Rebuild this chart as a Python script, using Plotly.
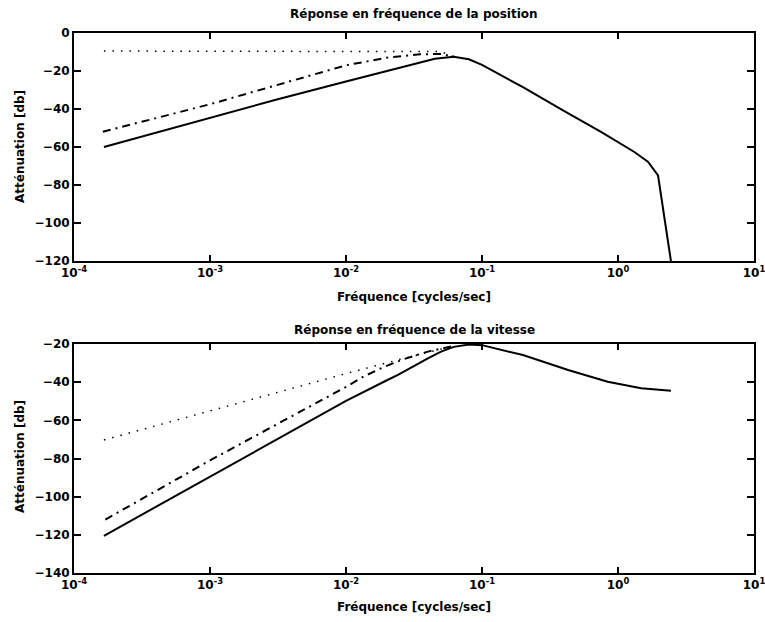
import plotly.graph_objects as go

# --- Réponse en fréquence de la position ---
pos_f_solid = [1.66e-4, 1e-3, 3e-3, 1e-2, 0.02, 0.03, 0.045, 0.062, 0.08, 0.1,
               0.2, 0.4, 0.75, 1.31, 1.66, 1.97, 2.45]
pos_db_solid = [-60, -44.6, -35.3, -25.5, -20, -16.8, -13.6, -12.5, -13.8, -16.8,
                -28.5, -41, -52, -62.5, -67.7, -75, -120]

pos_f_dashdot = [1.63e-4, 1e-3, 1e-2, 0.02, 0.035, 0.05, 0.062]
pos_db_dashdot = [-52, -37.5, -17, -13, -11.2, -11, -12.5]

pos_f_dot = [1.66e-4, 1e-3, 1e-2, 0.05, 0.062]
pos_db_dot = [-9.5, -9.5, -9.6, -9.8, -12.5]

# --- Réponse en fréquence de la vitesse ---
vit_f_solid = [1.66e-4, 1e-3, 1e-2, 0.02, 0.0241, 0.04, 0.05, 0.062, 0.08, 0.1,
               0.2, 0.43, 0.84, 1.48, 2.45]
vit_db_solid = [-120.5, -89.5, -49.8, -39, -36.2, -27.5, -24, -21.5, -20.3, -20.6,
                -25.8, -33.6, -39.8, -43.2, -44.5]

vit_f_dashdot = [1.7e-4, 1e-3, 1e-2, 0.0135, 0.019, 0.0267, 0.04, 0.0526, 0.062]
vit_db_dashdot = [-112, -81, -42.5, -37, -32, -27.9, -24, -22, -21]

vit_f_dot = [1.66e-4, 1e-3, 1e-2, 0.0245, 0.04, 0.062]
vit_db_dot = [-70.3, -55, -35.5, -28.2, -24.5, -21]

x_tickvals = [1e-4, 1e-3, 1e-2, 1e-1, 1e0, 1e1]
x_ticktext = ["10<sup>-4</sup>", "10<sup>-3</sup>", "10<sup>-2</sup>",
              "10<sup>-1</sup>", "10<sup>0</sup>", "10<sup>1</sup>"]
pos_yticks = [0, -20, -40, -60, -80, -100, -120]
vit_yticks = [-20, -40, -60, -80, -100, -120, -140]

titles = ["Réponse en fréquence de la position", "Réponse en fréquence de la vitesse"]
xlabel = "Fréquence [cycles/sec]"
ylabel = "Atténuation [db]"

FONT = "DejaVu Sans, Verdana, sans-serif"
W, H = 765, 622
# plot area in pixels: left, right, top, bottom
L, R, T, B = 74, 754, 33, 573
PW, PH = R - L, B - T


def px_x(px):
    return (px - L) / PW


def px_y(py):
    return (B - py) / PH


fig = go.Figure()

solid = dict(color="black", width=2)
dashdot = dict(color="black", width=2, dash="8px,5px,2px,5px")
dotted = dict(color="black", width=1.5, dash="1.5px,7px")

for f, db, ln, xa, ya in [
    (pos_f_solid, pos_db_solid, solid, "x", "y"),
    (pos_f_dashdot, pos_db_dashdot, dashdot, "x", "y"),
    (pos_f_dot, pos_db_dot, dotted, "x", "y"),
    (vit_f_solid, vit_db_solid, solid, "x2", "y2"),
    (vit_f_dashdot, vit_db_dashdot, dashdot, "x2", "y2"),
    (vit_f_dot, vit_db_dot, dotted, "x2", "y2"),
]:
    fig.add_trace(go.Scatter(x=f, y=db, mode="lines", line=ln,
                             xaxis=xa, yaxis=ya, showlegend=False,
                             hoverinfo="skip"))

top_dom = [px_y(261), 1.0]
bot_dom = [0.0, px_y(344)]

tick_font = dict(family=FONT, size=12, color="black", weight="bold")
common_x = dict(type="log", range=[-4, 1], tickvals=x_tickvals, ticktext=x_ticktext,
                ticks="inside", ticklen=6, tickwidth=1.5, tickcolor="black",
                showline=True, linecolor="black", linewidth=2, mirror="allticks",
                showgrid=False, zeroline=False, domain=[0, 1], tickfont=tick_font,
                automargin=False, ticklabeloverflow="allow")
common_y = dict(ticks="inside", ticklen=7, tickwidth=1.5, tickcolor="black",
                showline=True, linecolor="black", linewidth=2, mirror="allticks",
                showgrid=False, zeroline=False, tickfont=tick_font,
                automargin=False, ticklabeloverflow="allow")

fig.update_layout(
    width=W, height=H,
    margin=dict(l=L, r=W - R, t=T, b=H - B, autoexpand=False),
    paper_bgcolor="white", plot_bgcolor="white",
    xaxis=dict(common_x, anchor="y"),
    yaxis=dict(common_y, range=[-120, 0], tickvals=pos_yticks, domain=top_dom, anchor="x"),
    xaxis2=dict(common_x, anchor="y2"),
    yaxis2=dict(common_y, range=[-140, -20], tickvals=vit_yticks, domain=bot_dom, anchor="x2"),
)

title_font = dict(family=FONT, size=12, color="black", weight="bold")
label_font = dict(family=FONT, size=12, color="black", weight="bold")
cx = 0.5
annos = [
    (titles[0], cx, px_y(14), 0, title_font),
    (titles[1], cx, px_y(330), 0, title_font),
    (xlabel, cx, px_y(297), 0, label_font),
    (xlabel, cx, px_y(607), 0, label_font),
    (ylabel, px_x(20), px_y(147), -90, label_font),
    (ylabel, px_x(20), px_y(457), -90, label_font),
]
for text, x, y, ang, fnt in annos:
    fig.add_annotation(text=text, x=x, y=y, xref="paper", yref="paper",
                       xanchor="center", yanchor="middle", showarrow=False,
                       textangle=ang, font=fnt)

fig.write_html("out.html")
